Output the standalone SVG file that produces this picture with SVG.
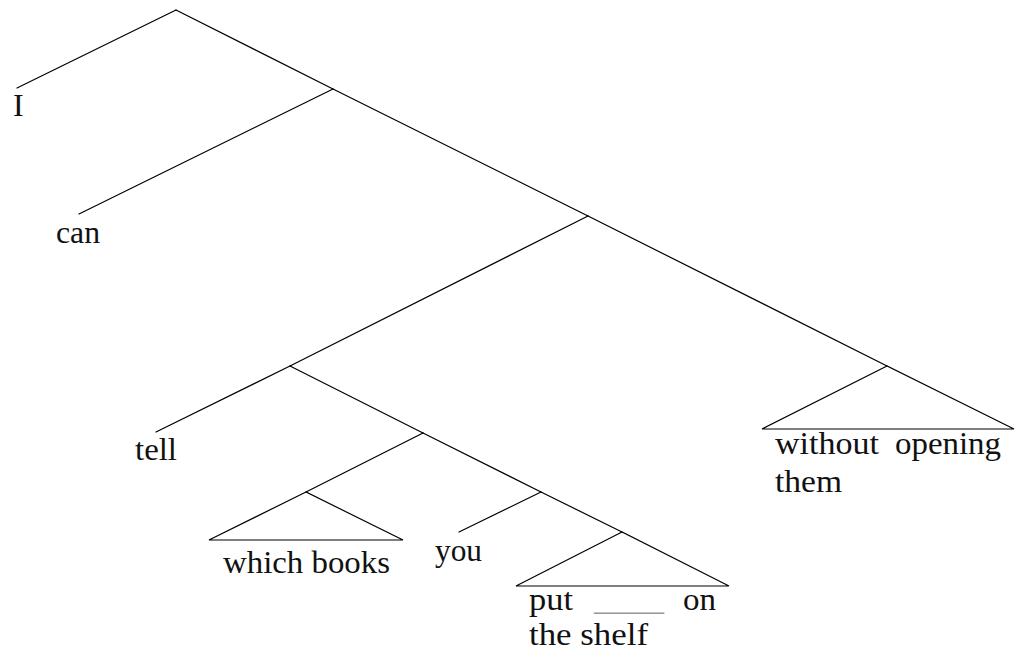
<svg xmlns="http://www.w3.org/2000/svg" width="1016" height="652" viewBox="0 0 1016 652">
<style>
.e{stroke:#000;stroke-width:1.2;fill:none;stroke-linecap:round}
.t{font-family:"Liberation Serif","DejaVu Serif",serif;font-size:32px;fill:#111}
.g{font-family:"Liberation Serif","DejaVu Serif",serif;font-size:32px;fill:#999}
</style>
<rect width="1016" height="652" fill="#fff"/>
<g id="connectors">
<line class="e" x1="176" y1="10" x2="17" y2="88"/>
<line class="e" x1="176" y1="10" x2="333" y2="89"/>
<line class="e" x1="333" y1="89" x2="79" y2="214"/>
<line class="e" x1="333" y1="89" x2="588" y2="216"/>
<line class="e" x1="588" y1="216" x2="290" y2="366"/>
<line class="e" x1="588" y1="216" x2="887" y2="366"/>
<line class="e" x1="290" y1="366" x2="156" y2="432"/>
<line class="e" x1="290" y1="366" x2="423" y2="433"/>
<line class="e" x1="423" y1="433" x2="306" y2="492"/>
<line class="e" x1="423" y1="433" x2="541" y2="492"/>
<line class="e" x1="541" y1="492" x2="459" y2="532"/>
<line class="e" x1="541" y1="492" x2="622" y2="532"/>
</g>
<g id="n-I"><text class="t" x="13" y="116">I</text></g>
<g id="n-can"><text class="t" x="56" y="243" textLength="44" lengthAdjust="spacingAndGlyphs">can</text></g>
<g id="n-tell"><text class="t" x="135" y="460" textLength="42" lengthAdjust="spacingAndGlyphs">tell</text></g>
<g id="n-which-books">
<polygon class="e" points="306,492 209,540 403,540"/>
<text class="t" x="223" y="573" textLength="167" lengthAdjust="spacingAndGlyphs">which books</text>
</g>
<g id="n-you"><text class="t" x="435" y="561" textLength="47" lengthAdjust="spacingAndGlyphs">you</text></g>
<g id="n-put-on-the-shelf">
<polygon class="e" points="622,532 516,586 729,586"/>
<text class="t" x="529" y="610" textLength="44" lengthAdjust="spacingAndGlyphs">put</text>
<text class="g" x="594" y="610" textLength="70" lengthAdjust="spacingAndGlyphs">____</text>
<text class="t" x="683" y="610" textLength="33" lengthAdjust="spacingAndGlyphs">on</text>
<text class="t" x="529" y="645" textLength="119" lengthAdjust="spacingAndGlyphs">the shelf</text>
</g>
<g id="n-without-opening-them">
<polygon class="e" points="887,366 762,429 1014,429"/>
<text class="t" x="775" y="454" textLength="104" lengthAdjust="spacingAndGlyphs">without</text>
<text class="t" x="895" y="454" textLength="106" lengthAdjust="spacingAndGlyphs">opening</text>
<text class="t" x="775" y="492" textLength="67" lengthAdjust="spacingAndGlyphs">them</text>
</g>
</svg>
